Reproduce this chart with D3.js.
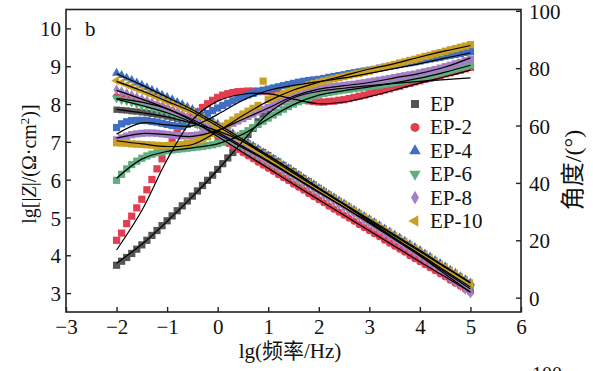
<!DOCTYPE html>
<html>
<head>
<meta charset="utf-8">
<script src="https://cdn.jsdelivr.net/npm/d3@7"></script>
<style>
  html, body { margin: 0; padding: 0; background: #fff; }
  svg text { font-family: "Liberation Serif", "Times New Roman", "Noto Sans CJK SC", serif; fill: #111; }
</style>
</head>
<body>
<svg id="chart" width="593" height="371"></svg>
<script>
// log10 of frequency (Hz) for each measured point
const lgFreq = [-2.0,-1.9,-1.8,-1.7,-1.6,-1.5,-1.4,-1.3,-1.2,-1.1,-1.0,-0.9,-0.8,-0.7,-0.6,-0.5,-0.4,-0.3,-0.2,-0.1,
  0.0,0.1,0.2,0.3,0.4,0.5,0.6,0.7,0.8,0.9,1.0,1.1,1.2,1.3,1.4,1.5,1.6,1.7,1.8,1.9,
  2.0,2.1,2.2,2.3,2.4,2.5,2.6,2.7,2.8,2.9,3.0,3.1,3.2,3.3,3.4,3.5,3.6,3.7,3.8,3.9,
  4.0,4.1,4.2,4.3,4.4,4.5,4.6,4.7,4.8,4.9,5.0];

const sampleNames = ["EP", "EP-2", "EP-4", "EP-6", "EP-8", "EP-10"];

// lg|Z| (Ω·cm²)
const zEP   = [7.85,7.84,7.83,7.81,7.80,7.78,7.76,7.74,7.72,7.70,7.67,7.64,7.61,7.58,7.54,7.50,7.46,7.42,7.38,7.34,7.30,7.25,7.19,7.14,7.08,7.02,6.95,6.88,6.80,6.73,6.65,6.56,6.48,6.39,6.31,6.22,6.13,6.04,5.96,5.87,5.78,5.69,5.60,5.52,5.43,5.34,5.25,5.16,5.08,4.99,4.90,4.81,4.72,4.63,4.54,4.45,4.36,4.27,4.18,4.09,4.00,3.91,3.82,3.73,3.64,3.55,3.46,3.37,3.28,3.19,3.10];
const zEP2  = [8.20,8.18,8.16,8.13,8.11,8.08,8.05,8.01,7.97,7.93,7.88,7.82,7.76,7.70,7.63,7.55,7.47,7.39,7.30,7.22,7.13,7.05,6.96,6.88,6.80,6.71,6.63,6.55,6.46,6.38,6.30,6.22,6.13,6.05,5.97,5.88,5.80,5.72,5.63,5.55,5.47,5.39,5.30,5.22,5.14,5.06,4.98,4.90,4.81,4.73,4.65,4.57,4.49,4.40,4.32,4.24,4.16,4.08,3.99,3.91,3.83,3.75,3.67,3.59,3.51,3.43,3.34,3.26,3.18,3.10,3.02];
const zEP4  = [8.82,8.76,8.69,8.63,8.56,8.50,8.44,8.37,8.31,8.24,8.18,8.12,8.05,7.99,7.92,7.86,7.78,7.70,7.63,7.55,7.47,7.39,7.31,7.22,7.14,7.06,6.98,6.89,6.81,6.72,6.64,6.55,6.47,6.38,6.30,6.21,6.12,6.04,5.95,5.87,5.78,5.70,5.61,5.53,5.44,5.36,5.28,5.20,5.11,5.03,4.95,4.87,4.79,4.70,4.62,4.54,4.46,4.38,4.29,4.21,4.13,4.04,3.96,3.87,3.79,3.70,3.61,3.53,3.44,3.36,3.27];
const zEP6  = [8.15,8.11,8.08,8.04,8.00,7.96,7.93,7.89,7.85,7.82,7.78,7.73,7.68,7.62,7.57,7.52,7.46,7.39,7.33,7.26,7.20,7.13,7.05,6.98,6.91,6.84,6.76,6.69,6.62,6.54,6.47,6.39,6.31,6.23,6.15,6.07,5.98,5.90,5.82,5.74,5.66,5.58,5.50,5.42,5.34,5.27,5.19,5.11,5.03,4.95,4.87,4.79,4.70,4.62,4.53,4.45,4.37,4.28,4.20,4.11,4.03,3.94,3.85,3.77,3.68,3.59,3.50,3.41,3.33,3.24,3.15];
const zEP8  = [8.38,8.33,8.28,8.23,8.18,8.13,8.08,8.03,7.98,7.93,7.88,7.82,7.77,7.71,7.66,7.60,7.53,7.46,7.40,7.33,7.26,7.18,7.11,7.03,6.96,6.88,6.80,6.73,6.65,6.58,6.50,6.42,6.34,6.25,6.17,6.09,6.01,5.93,5.84,5.76,5.68,5.60,5.51,5.43,5.35,5.27,5.18,5.10,5.02,4.93,4.85,4.76,4.68,4.59,4.50,4.42,4.33,4.24,4.15,4.07,3.98,3.88,3.78,3.69,3.59,3.49,3.39,3.29,3.20,3.10,3.00];
const zEP10 = [8.62,8.57,8.51,8.46,8.40,8.35,8.29,8.24,8.18,8.13,8.07,8.02,7.96,7.90,7.85,7.79,7.71,7.64,7.56,7.49,7.41,7.33,7.25,7.17,7.09,7.01,6.93,6.85,6.76,6.68,6.60,6.51,6.43,6.34,6.26,6.17,6.09,6.00,5.92,5.83,5.75,5.67,5.59,5.50,5.42,5.34,5.26,5.18,5.09,5.01,4.93,4.85,4.76,4.68,4.60,4.51,4.43,4.35,4.26,4.18,4.10,4.02,3.93,3.85,3.76,3.68,3.59,3.51,3.42,3.34,3.25];

// phase angle (°)
const phEP   = [11.3,12.7,14.0,15.4,16.9,18.4,20.0,21.7,23.4,25.1,26.8,28.5,30.3,32.0,33.7,35.4,37.2,39.1,40.9,42.7,44.7,46.7,48.7,50.6,52.7,54.8,56.9,59.0,61.3,63.2,64.9,66.4,67.6,68.5,69.3,69.9,70.5,70.9,71.3,71.5,71.8,72.1,72.4,72.7,73.0,73.4,73.7,74.0,74.3,74.6,75.0,75.3,75.6,75.9,76.2,76.6,76.9,77.2,77.5,77.8,78.2,78.5,78.8,79.1,79.4,79.8,80.1,80.4,80.7,81.0,81.4];
const phEP2  = [20.0,22.5,25.8,28.4,31.3,34.3,37.6,41.2,44.9,48.4,51.8,54.7,57.3,59.6,61.5,63.2,64.8,66.3,67.6,68.8,69.8,70.6,71.1,71.5,71.8,71.9,72.0,72.0,72.0,71.9,71.8,71.5,71.1,70.7,70.2,69.7,69.3,68.9,68.6,68.4,68.2,68.2,68.4,68.5,68.8,69.0,69.4,69.8,70.2,70.6,71.1,71.5,71.9,72.4,72.8,73.4,73.7,74.3,74.7,75.2,75.6,76.1,76.5,77.0,77.4,78.0,78.4,78.9,79.3,79.8,80.3];
const phEP4  = [59.3,60.6,61.3,61.7,61.8,61.8,61.7,61.4,61.2,60.8,60.4,60.0,59.8,59.9,60.4,61.2,62.1,63.1,64.2,65.2,66.1,67.0,67.8,68.6,69.4,70.1,70.7,71.2,71.8,72.3,72.7,73.1,73.5,73.9,74.3,74.7,75.1,75.4,75.7,75.9,76.1,76.4,76.8,77.1,77.4,77.7,78.1,78.4,78.7,79.0,79.3,79.6,80.0,80.3,80.6,80.9,81.3,81.6,81.9,82.2,82.5,82.9,83.2,83.5,83.8,84.2,84.5,84.8,85.1,85.5,85.8];
const phEP6  = [40.9,43.0,44.9,46.4,47.6,48.6,49.4,50.0,50.5,50.9,51.2,51.5,51.7,51.9,52.1,52.3,52.5,52.7,53.0,53.3,53.7,54.2,54.8,55.5,56.3,57.2,58.2,59.3,60.4,61.5,62.6,63.7,64.7,65.7,66.6,67.5,68.3,69.0,69.7,70.3,70.8,71.2,71.5,71.8,72.1,72.4,72.6,72.9,73.1,73.4,73.6,73.9,74.1,74.4,74.7,75.0,75.3,75.6,76.0,76.3,76.7,77.1,77.5,77.9,78.3,78.8,79.2,79.7,80.2,80.6,81.1];
const phEP8  = [55.0,55.7,56.3,56.8,57.1,57.3,57.4,57.4,57.3,57.1,56.9,56.7,56.5,56.4,56.4,56.5,56.7,57.0,57.4,57.9,58.5,59.2,60.0,60.8,61.6,62.4,63.2,64.0,64.8,65.6,66.3,67.2,68.1,68.9,69.7,70.4,71.0,71.6,72.1,72.5,72.9,73.2,73.4,73.6,73.8,74.0,74.2,74.4,74.7,74.9,75.2,75.5,75.8,76.1,76.4,76.7,77.0,77.3,77.6,77.9,78.3,78.7,79.1,79.5,80.0,80.5,81.0,81.5,82.0,82.6,83.2];
const phEP10 = [54.0,53.9,53.8,53.6,53.5,53.4,53.3,53.2,53.1,53.0,53.0,53.1,53.2,53.4,53.7,54.0,54.6,55.3,56.1,57.3,58.6,59.7,60.8,61.9,63.0,64.0,65.0,66.0,67.0,75.5,69.0,69.7,70.4,71.1,71.8,72.4,73.0,73.6,74.1,74.6,75.1,75.5,75.9,76.3,76.7,77.1,77.5,77.9,78.2,78.6,79.0,79.5,79.9,80.4,80.8,81.3,81.8,82.2,82.7,83.1,83.6,84.1,84.5,85.0,85.4,85.9,86.4,86.8,87.3,87.7,88.2];

// equivalent-circuit fit curves, sampled every half decade
const lgFreqFit = [-2.0,-1.5,-1.0,-0.5,0.0,0.5,1.0,1.5,2.0,2.5,3.0,3.5,4.0,4.5,5.0];
const zFitEP   = [7.86,7.77,7.66,7.49,7.29,7.01,6.64,6.22,5.78,5.34,4.90,4.45,4.00,3.55,3.11];
const zFitEP2  = [8.15,8.05,7.87,7.55,7.14,6.72,6.30,5.88,5.47,5.06,4.65,4.24,3.83,3.43,3.03];
const zFitEP4  = [8.80,8.50,8.18,7.85,7.47,7.06,6.64,6.21,5.78,5.36,4.95,4.54,4.13,3.70,3.28];
const zFitEP6  = [8.13,7.96,7.77,7.51,7.20,6.84,6.47,6.07,5.66,5.27,4.87,4.45,4.03,3.59,3.16];
const zFitEP8  = [8.36,8.13,7.88,7.59,7.25,6.88,6.50,6.09,5.68,5.27,4.85,4.42,3.98,3.50,3.02];
const zFitEP10 = [8.60,8.35,8.07,7.79,7.41,7.01,6.60,6.17,5.75,5.34,4.93,4.51,4.10,3.68,3.26];
const phFitEP   = [12.0,18.6,26.6,35.2,44.5,54.6,64.2,69.7,71.9,73.0,73.9,74.7,75.4,76.0,76.6];
const phFitEP2  = [16.6,30.4,48.1,62.0,68.5,70.9,71.1,69.2,67.6,68.2,70.1,72.4,74.8,77.0,79.3];
const phFitEP4  = [57.0,60.9,60.2,59.9,63.9,68.8,72.2,74.0,75.3,76.6,78.2,79.9,81.6,83.5,85.3];
const phFitEP6  = [41.6,48.3,51.0,52.2,53.6,57.0,62.4,67.3,70.6,72.2,73.5,74.9,76.5,78.6,81.0];
const phFitEP8  = [55.6,57.2,56.8,56.2,58.3,62.2,66.1,70.2,72.7,73.9,75.0,76.6,78.2,80.4,83.6];
const phFitEP10 = [54.7,53.6,52.7,53.4,58.0,63.5,68.5,72.4,75.1,77.4,79.7,81.6,83.9,86.0,87.9];

const xTicks = [-3,-2,-1,0,1,2,3,4,5,6];
const zTicks = [3,4,5,6,7,8,9,10];
const phTicks = [0,20,40,60,80,100];

const colors = ["#555555", "#e23d50", "#3f6ec2", "#5fae80", "#a47fc3", "#c9a023"];
const rotations = [0, 0, 0, 180, 0, -90];
const symbolTypes = [d3.symbolSquare, d3.symbolCircle, d3.symbolTriangle, d3.symbolTriangle, d3.symbolDiamond, d3.symbolTriangle];
const symbolSizes = [40, 40, 36, 36, 34, 36];

const zSeries = [zEP, zEP2, zEP4, zEP6, zEP8, zEP10];
const phSeries = [phEP, phEP2, phEP4, phEP6, phEP8, phEP10];
const zFits = [zFitEP, zFitEP2, zFitEP4, zFitEP6, zFitEP8, zFitEP10];
const phFits = [phFitEP, phFitEP2, phFitEP4, phFitEP6, phFitEP8, phFitEP10];

const plot = { left: 66, right: 521, top: 9.5, bottom: 312 };

const x = d3.scaleLinear().domain([-3, 6]).range([plot.left, plot.right]);
const yZ = d3.scaleLinear().domain([2.5, 10.5]).range([plot.bottom, plot.top]);
const yP = d3.scaleLinear().domain([-5, 100.45]).range([plot.bottom, plot.top]);

const svg = d3.select("#chart");

// data markers
const marks = svg.append("g");
sampleNames.forEach((name, i) => {
  const g = marks.append("g");
  // phase angle: square markers
  g.selectAll("path.ph").data(lgFreq.map((f, k) => [f, phSeries[i][k]]))
    .join("path").attr("class", "ph")
    .attr("d", d3.symbol(d3.symbolSquare, 52))
    .attr("transform", d => `translate(${x(d[0])},${yP(d[1])})`)
    .attr("fill", colors[i]);
  // impedance modulus: sample-specific symbols
  g.selectAll("path.z").data(lgFreq.map((f, k) => [f, zSeries[i][k]]))
    .join("path").attr("class", "z")
    .attr("d", d3.symbol(symbolTypes[i], symbolSizes[i]))
    .attr("transform", d => `translate(${x(d[0])},${yZ(d[1])}) rotate(${rotations[i]})`)
    .attr("fill", colors[i]);
});

// fitted curves
const fitG = svg.append("g").attr("fill", "none").attr("stroke", "#000").attr("stroke-width", 1.2);
const lineZ = d3.line().x(d => x(d[0])).y(d => yZ(d[1])).curve(d3.curveCatmullRom.alpha(0.5));
const lineP = d3.line().x(d => x(d[0])).y(d => yP(d[1])).curve(d3.curveCatmullRom.alpha(0.5));
sampleNames.forEach((name, i) => {
  fitG.append("path").attr("d", lineZ(lgFreqFit.map((f, k) => [f, zFits[i][k]])));
  fitG.append("path").attr("d", lineP(lgFreqFit.map((f, k) => [f, phFits[i][k]])));
});

// frame and axes
const axisColor = "#222";
svg.append("rect")
  .attr("x", plot.left).attr("y", plot.top)
  .attr("width", plot.right - plot.left).attr("height", plot.bottom - plot.top)
  .attr("fill", "none").attr("stroke", axisColor).attr("stroke-width", 1.6);

function styleAxis(g) {
  g.select(".domain").remove();
  g.selectAll(".tick line").attr("stroke", axisColor).attr("stroke-width", 1.4);
  g.selectAll(".tick text").style("font-size", "21px").attr("fill", "#111");
}

svg.append("g").attr("transform", `translate(0,${plot.bottom})`)
  .call(d3.axisBottom(x).tickValues(xTicks).tickFormat(d3.format("d")).tickSize(-5).tickPadding(7))
  .call(styleAxis);
svg.append("g").attr("transform", `translate(${plot.left},0)`)
  .call(d3.axisLeft(yZ).tickValues(zTicks).tickFormat(d3.format("d")).tickSize(-5).tickPadding(5))
  .call(styleAxis)
  .selectAll(".tick text").attr("dy", "0.36em");
svg.append("g").attr("transform", `translate(${plot.right},0)`)
  .call(d3.axisRight(yP).tickValues(phTicks).tickFormat(d3.format("d")).tickSize(-5).tickPadding(8))
  .call(styleAxis)
  .selectAll(".tick text").attr("dy", "0.36em");

// panel letter
svg.append("text").attr("x", 85).attr("y", 36).style("font-size", "21px").text("b");

// axis titles
svg.append("text").attr("x", 290).attr("y", 358)
  .attr("text-anchor", "middle").style("font-size", "21px").text("lg(频率/Hz)");

const yTitle = svg.append("text")
  .attr("transform", `translate(36,164) rotate(-90)`)
  .attr("text-anchor", "middle").style("font-size", "20px");
yTitle.append("tspan").text("lg[|");
yTitle.append("tspan").style("font-style", "italic").text("Z");
yTitle.append("tspan").text("|/(Ω·cm");
yTitle.append("tspan").attr("dy", "-7").style("font-size", "13px").text("2");
yTitle.append("tspan").attr("dy", "7").text(")]");

svg.append("text")
  .attr("transform", `translate(581,170) rotate(-90)`)
  .attr("text-anchor", "middle").style("font-size", "24px").text("角度/(°)");

// legend
const legend = svg.append("g");
sampleNames.forEach((name, i) => {
  const ly = 104 + i * 23.4;
  legend.append("path")
    .attr("d", d3.symbol(symbolTypes[i], symbolSizes[i] * 1.6))
    .attr("transform", `translate(415,${ly}) rotate(${rotations[i]})`)
    .attr("fill", colors[i]);
  legend.append("text").attr("x", 430).attr("y", ly + 7).style("font-size", "21px").text(name);
});

// top of the next panel's axis label
svg.append("text").attr("x", 532).attr("y", 381).style("font-size", "20px").text("100");
</script>
</body>
</html>
